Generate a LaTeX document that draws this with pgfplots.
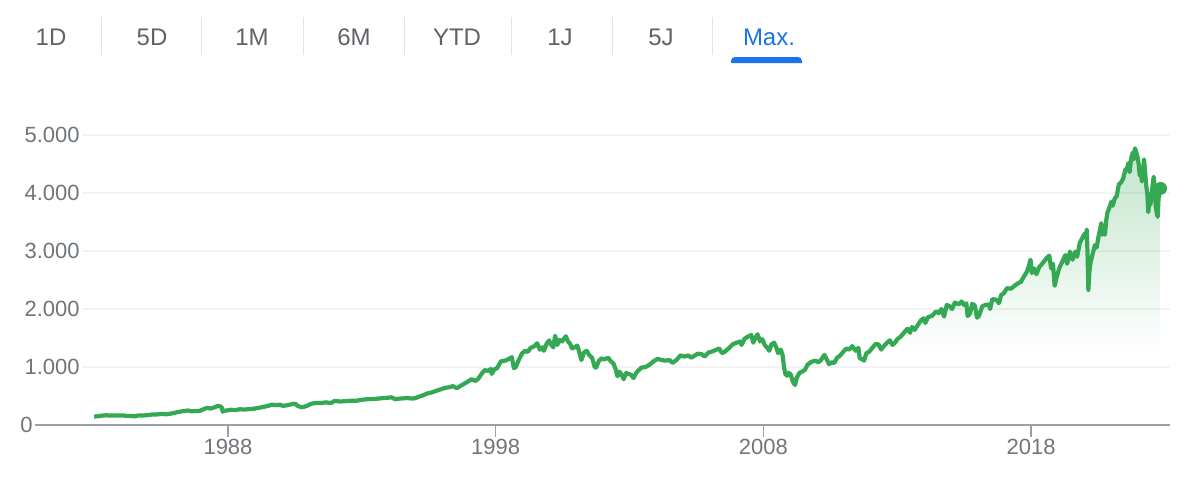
\documentclass[border=0pt]{standalone}
\usepackage{pgfplots}
\pgfplotsset{compat=1.18}
\usepackage{pgfplotstable}
\usepackage{fontspec}
\setmainfont{Liberation Sans}
\usetikzlibrary{fadings}

\definecolor{ggreen}{RGB}{52,168,83}
\definecolor{tabgray}{RGB}{95,99,104}
\definecolor{lblgray}{RGB}{112,117,122}
\definecolor{gblue}{RGB}{26,115,232}
\definecolor{sepgray}{RGB}{225,227,230}
\definecolor{gridgray}{RGB}{241,243,244}
\definecolor{axisgray}{RGB}{154,160,166}

% area under the curve: opaque at the top, gone by about a quarter of the height
\pgfdeclareverticalshading{areafadeshade}{100bp}{color(0bp)=(black); color(25bp)=(black); color(38bp)=(black); color(75bp)=(white); color(100bp)=(white)}
\pgfdeclarefading{areafade}{\pgfuseshading{areafadeshade}}

% index (year, points)
\pgfplotstableread{
year val
1983.00 145
1983.15 152
1983.30 162
1983.45 168
1983.60 163
1983.75 166
1983.90 164
1984.05 166
1984.20 158
1984.40 153
1984.55 152
1984.65 166
1984.85 165
1985.00 170
1985.15 180
1985.35 182
1985.50 192
1985.70 185
1985.85 195
1986.00 210
1986.15 225
1986.30 238
1986.50 250
1986.65 236
1986.75 240
1986.95 245
1987.05 265
1987.20 295
1987.35 285
1987.50 305
1987.62 330
1987.70 320
1987.76 312
1987.80 230
1987.85 245
1987.95 250
1988.10 262
1988.30 260
1988.45 272
1988.60 265
1988.80 275
1988.95 280
1989.10 292
1989.30 310
1989.50 330
1989.65 352
1989.80 342
1989.95 350
1990.05 330
1990.20 340
1990.40 360
1990.52 365
1990.60 330
1990.75 305
1990.85 315
1990.95 330
1991.10 365
1991.25 380
1991.45 378
1991.65 390
1991.85 380
1991.98 415
1992.20 405
1992.40 412
1992.60 420
1992.80 418
1992.98 435
1993.20 445
1993.40 448
1993.60 455
1993.80 465
1993.98 470
1994.10 478
1994.25 445
1994.40 455
1994.55 460
1994.70 465
1994.90 455
1995.00 465
1995.15 490
1995.30 515
1995.45 545
1995.60 560
1995.75 585
1995.95 615
1996.10 640
1996.25 650
1996.40 670
1996.55 635
1996.65 665
1996.80 705
1996.95 745
1997.10 790
1997.25 760
1997.35 800
1997.50 900
1997.60 950
1997.70 930
1997.82 965
1997.85 880
1997.95 960
1998.05 980
1998.20 1100
1998.35 1110
1998.50 1140
1998.60 1170
1998.68 980
1998.75 1000
1998.85 1110
1998.98 1230
1999.10 1280
1999.20 1260
1999.30 1330
1999.45 1360
1999.55 1410
1999.65 1300
1999.75 1340
1999.80 1280
1999.90 1400
2000.00 1460
2000.05 1400
2000.15 1340
2000.22 1540
2000.30 1380
2000.38 1470
2000.48 1440
2000.55 1490
2000.62 1530
2000.70 1440
2000.78 1400
2000.85 1320
2000.95 1340
2001.05 1370
2001.12 1260
2001.20 1120
2001.30 1250
2001.40 1280
2001.50 1200
2001.60 1160
2001.70 1000
2001.75 990
2001.85 1100
2001.95 1150
2002.05 1130
2002.20 1160
2002.30 1100
2002.40 1060
2002.48 960
2002.55 840
2002.62 920
2002.70 870
2002.78 790
2002.88 900
2002.95 880
2003.05 870
2003.15 810
2003.25 900
2003.35 950
2003.45 990
2003.60 1000
2003.75 1040
2003.90 1100
2004.05 1140
2004.20 1120
2004.35 1110
2004.50 1120
2004.60 1070
2004.75 1120
2004.90 1200
2005.05 1180
2005.20 1200
2005.30 1160
2005.45 1200
2005.55 1230
2005.70 1220
2005.80 1180
2005.95 1250
2006.10 1270
2006.25 1300
2006.35 1320
2006.45 1240
2006.55 1260
2006.70 1320
2006.85 1390
2007.00 1420
2007.15 1440
2007.18 1380
2007.30 1490
2007.45 1530
2007.55 1550
2007.62 1420
2007.70 1500
2007.78 1565
2007.88 1440
2007.96 1480
2008.05 1380
2008.15 1330
2008.22 1280
2008.30 1390
2008.40 1420
2008.48 1340
2008.55 1240
2008.65 1300
2008.72 1200
2008.77 1000
2008.82 880
2008.88 850
2008.95 900
2009.02 870
2009.10 750
2009.18 690
2009.25 820
2009.35 900
2009.45 920
2009.55 950
2009.65 1040
2009.80 1090
2009.95 1110
2010.05 1080
2010.15 1120
2010.28 1210
2010.38 1120
2010.45 1050
2010.55 1080
2010.65 1070
2010.75 1160
2010.85 1190
2010.98 1260
2011.10 1320
2011.20 1300
2011.32 1360
2011.45 1280
2011.55 1330
2011.60 1150
2011.70 1130
2011.76 1110
2011.85 1240
2011.95 1260
2012.05 1320
2012.20 1400
2012.30 1390
2012.40 1300
2012.50 1360
2012.62 1420
2012.72 1460
2012.82 1380
2012.92 1420
2013.00 1480
2013.12 1520
2013.25 1590
2013.38 1660
2013.48 1590
2013.55 1690
2013.65 1640
2013.75 1710
2013.88 1800
2013.98 1840
2014.05 1760
2014.15 1860
2014.30 1880
2014.45 1960
2014.55 1930
2014.65 2000
2014.75 1870
2014.85 2070
2014.95 2050
2015.05 2000
2015.15 2110
2015.30 2080
2015.40 2130
2015.50 2070
2015.58 2100
2015.63 1880
2015.72 1920
2015.80 2090
2015.90 2060
2015.98 1850
2016.05 1880
2016.18 2050
2016.30 2070
2016.42 2080
2016.47 2000
2016.55 2170
2016.70 2160
2016.80 2100
2016.88 2240
2016.98 2270
2017.10 2360
2017.25 2350
2017.38 2400
2017.50 2440
2017.62 2470
2017.72 2550
2017.85 2650
2017.92 2750
2017.98 2850
2018.03 2620
2018.12 2700
2018.20 2600
2018.30 2720
2018.45 2800
2018.58 2880
2018.68 2920
2018.75 2700
2018.82 2780
2018.88 2400
2018.95 2540
2019.05 2700
2019.15 2800
2019.28 2930
2019.35 2780
2019.45 2990
2019.55 2850
2019.65 2990
2019.72 2900
2019.82 3140
2019.92 3230
2020.00 3300
2020.05 3220
2020.08 3370
2020.11 2950
2020.14 2330
2020.18 2650
2020.22 2800
2020.30 2950
2020.38 3100
2020.45 3060
2020.52 3250
2020.58 3380
2020.62 3480
2020.66 3280
2020.72 3400
2020.76 3280
2020.80 3500
2020.85 3660
2020.92 3740
2021.00 3850
2021.05 3780
2021.12 3900
2021.20 3950
2021.28 4150
2021.36 4180
2021.44 4250
2021.52 4400
2021.58 4420
2021.64 4520
2021.68 4360
2021.74 4600
2021.80 4700
2021.84 4580
2021.88 4770
2021.92 4720
2021.98 4610
2022.02 4500
2022.06 4300
2022.10 4380
2022.14 4200
2022.18 4380
2022.22 4580
2022.26 4350
2022.30 4130
2022.34 4000
2022.38 3670
2022.42 3880
2022.46 3800
2022.52 4050
2022.58 4280
2022.62 4100
2022.66 3750
2022.70 3640
2022.73 3590
2022.76 3900
2022.80 4000
2022.84 4080
}\spx

\begin{document}
\begin{tikzpicture}
\begin{scope}[x=0.5pt,y=-0.5pt]
\useasboundingbox (0,0) rectangle (1200,489);
% range tabs
\foreach \cx/\lab in {51/1D,152/5D,252/1M,354/6M,457/YTD,560/1J,661/5J}
  \node[anchor=base, inner sep=0pt, text=tabgray, font=\fontsize{12}{14}\selectfont] at (\cx,45.5) {\lab};
\node[anchor=base, inner sep=0pt, text=gblue, font=\fontsize{12}{14}\selectfont] at (769,45.5) {Max.};
\foreach \sx in {101,201,303,404,511,612,712}
  \draw[sepgray, line width=0.5pt] (\sx,17) -- (\sx,55);
\fill[gblue, rounded corners=2pt] (731,63) |- (802,57) [sharp corners] -- (802,63) -- cycle;
\end{scope}

\begin{axis}[
  at={(41pt,-212.5pt)}, anchor=south west,
  scale only axis, width=544pt, height=145pt,
  xmin=1982.546, xmax=2023.19, ymin=0, ymax=5000,
  axis line style={draw=none},
  xtick={1988,1998,2008,2018},
  xticklabels={1988,1998,2008,2018},
  xtick pos=lower, xtick align=outside,
  major tick length=6pt,
  xtick style={axisgray, line width=0.8pt},
  ytick={1000,2000,3000,4000,5000},
  yticklabels={1.000,2.000,3.000,4.000,5.000},
  ytick style={draw=none},
  ymajorgrids, grid style={gridgray, line width=0.8pt},
  tick label style={font=\fontsize{11}{13}\selectfont, text=lblgray},
  yticklabel style={anchor=east, inner sep=0pt, xshift=-1pt},
  xticklabel style={anchor=north, inner sep=0pt, yshift=-1pt},
  clip=false,
]
\addplot[draw=none, fill=ggreen, fill opacity=0.3, path fading=areafade] table[x=year, y=val] {\spx} \closedcycle;
\addplot[ggreen, line width=2.1pt, line join=round] table[x=year, y=val] {\spx};
\addplot[ggreen, only marks, mark=*, mark size=3pt] coordinates {(2022.84,4080)};
\end{axis}

\begin{scope}[x=0.5pt,y=-0.5pt]
\draw[axisgray, line width=1pt] (35,425) -- (1170,425);
\node[anchor=east, inner sep=0pt, text=lblgray, font=\fontsize{11}{13}\selectfont] at (33,425) {0};
\end{scope}
\end{tikzpicture}
\end{document}
